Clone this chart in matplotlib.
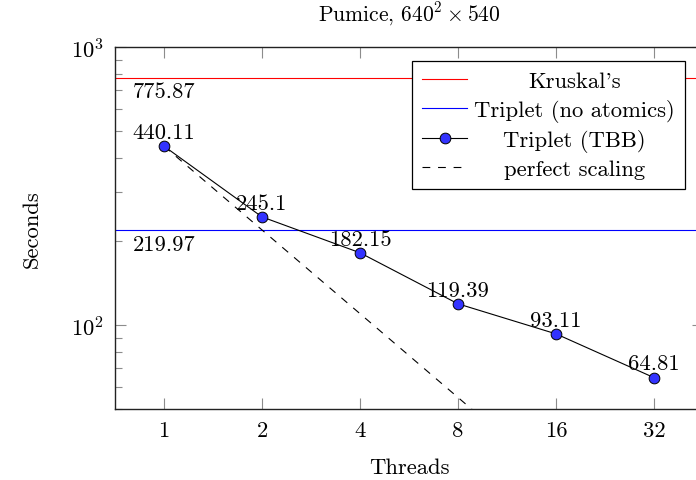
import matplotlib
matplotlib.use("Agg")
import matplotlib.pyplot as plt
from matplotlib.ticker import FixedLocator, NullFormatter, LogLocator, NullLocator

plt.rcParams['font.family'] = 'serif'
plt.rcParams['font.serif'] = ['cmr10']
plt.rcParams['mathtext.fontset'] = 'cm'
plt.rcParams['axes.formatter.use_mathtext'] = True

threads = [1, 2, 4, 8, 16, 32]
tbb_seconds = [440.11, 245.1, 182.15, 119.39, 93.11, 64.81]
tbb_labels = ['440.11', '245.1', '182.15', '119.39', '93.11', '64.81']
perfect_seconds = [440.11, 220.06, 110.03, 55.01, 27.51, 13.75]
kruskal_seconds = 775.87
no_atomics_seconds = 219.97

fs = 16.3

fig = plt.figure(figsize=(6.96, 4.81), dpi=100)
ax = fig.add_axes([115 / 696, 1 - 410 / 481, 588 / 696, 362 / 481])

ax.axhline(kruskal_seconds, color='red', linewidth=0.8, label="Kruskal's")
ax.axhline(no_atomics_seconds, color='blue', linewidth=0.8, label='Triplet (no atomics)')
ax.plot(threads, tbb_seconds, color='black', linewidth=0.8, marker='o', markersize=7.7,
        markerfacecolor='#3333ff', markeredgecolor='black', markeredgewidth=0.7,
        label='Triplet (TBB)', zorder=3)
ax.plot(threads, perfect_seconds, color='black', linewidth=0.8, linestyle=(0, (7, 7)),
        label='perfect scaling')

# value labels
for t, v, s in zip(threads, tbb_seconds, tbb_labels):
    ax.annotate(s, (t, v), xytext=(0, 3), textcoords='offset points',
                ha='center', va='bottom', fontsize=fs, zorder=4)
ax.annotate('775.87', (threads[0], kruskal_seconds), xytext=(0, -3), textcoords='offset points',
            ha='center', va='top', fontsize=fs)
ax.annotate('219.97', (threads[0], no_atomics_seconds), xytext=(0, -3), textcoords='offset points',
            ha='center', va='top', fontsize=fs)

ax.set_xscale('log', base=2)
ax.set_yscale('log')
ax.set_xlim(2 ** -0.5, 2 ** 5.5)
ax.set_ylim(50, 1000)
ax.xaxis.set_major_locator(FixedLocator(threads))
ax.set_xticklabels([str(t) for t in threads])
ax.xaxis.set_minor_locator(NullLocator())
ax.yaxis.set_major_locator(FixedLocator([100, 1000]))
ax.yaxis.set_minor_locator(LogLocator(base=10, subs=range(2, 10)))
ax.yaxis.set_minor_formatter(NullFormatter())

ax.tick_params(which='both', direction='in', top=True, right=True, color='#8c8c8c',
               width=0.8, labelsize=fs, pad=8)
ax.tick_params(which='major', length=7.9)
ax.tick_params(which='minor', length=4.8)
for sp in ax.spines.values():
    sp.set_linewidth(1.0)
    sp.set_color('#222222')

ax.set_title(r'Pumice, $640^2 \times 540$', fontsize=15.5, pad=19)
ax.set_xlabel('Threads', fontsize=fs, labelpad=13)
ax.set_ylabel('Seconds', fontsize=fs, labelpad=21)

leg = ax.legend(loc='upper right', bbox_to_anchor=((685 - 115) / 588, (410 - 62) / 362),
                borderaxespad=0, fancybox=False, framealpha=1, edgecolor='black',
                fontsize=fs, handlelength=2.0, labelspacing=0.33, handletextpad=0.3,
                borderpad=0.45, numpoints=1)
leg.get_frame().set_linewidth(0.9)

# centre legend texts like pgfplots
fig.canvas.draw()
texts = leg.get_texts()
widths = [t.get_window_extent().width for t in texts]
wmax = max(widths)
for t, w in zip(texts, widths):
    t.set_x((wmax - w) / 2)

fig.savefig('out.png', dpi=100)
